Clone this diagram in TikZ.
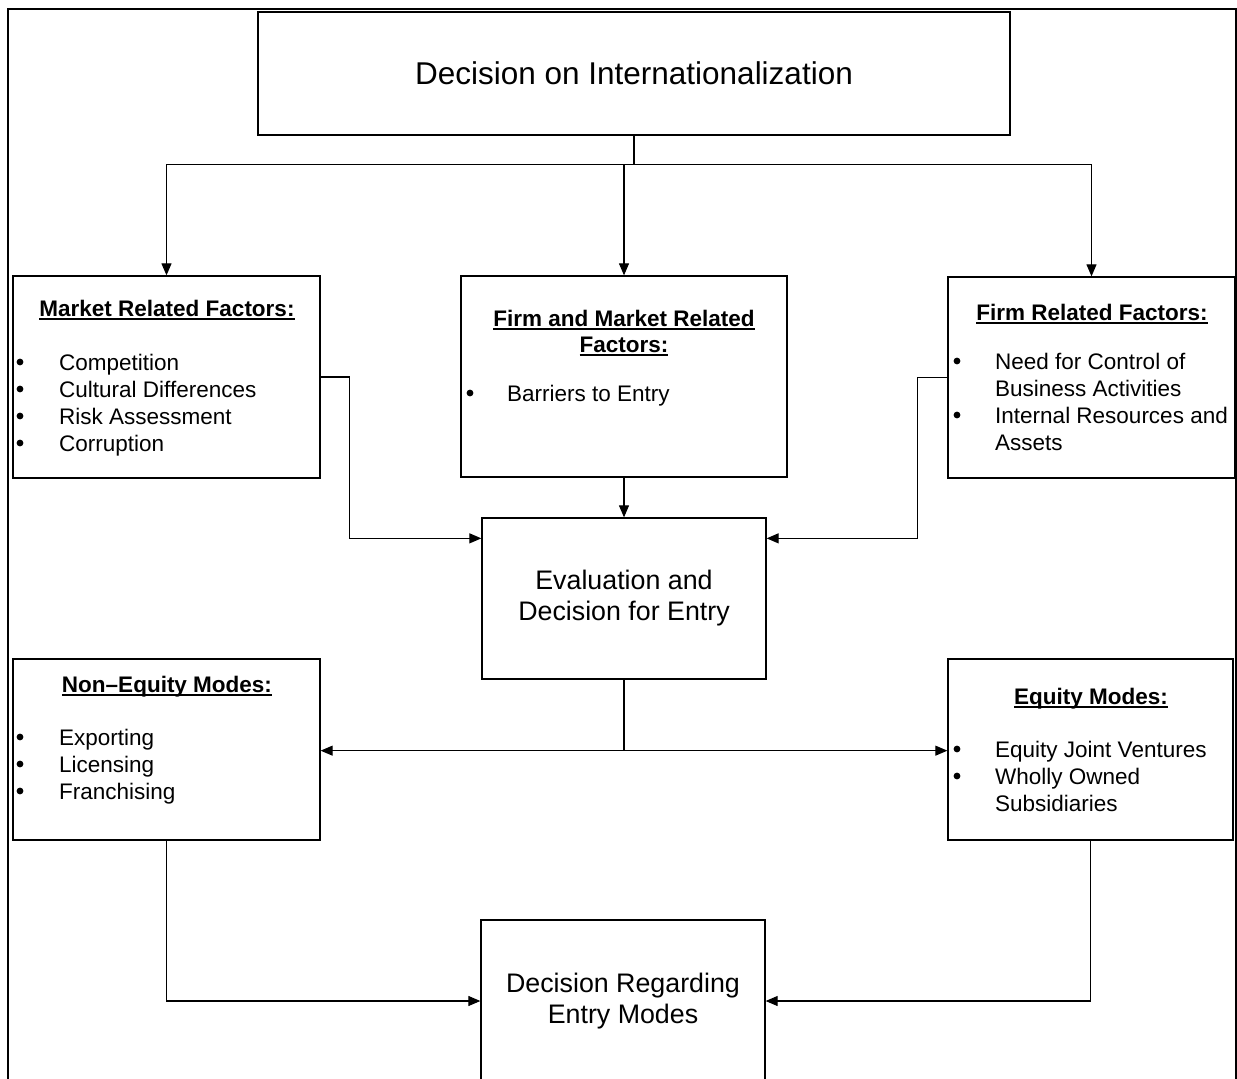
\documentclass[tikz,border=0pt]{standalone}
\usepackage{fontspec}
\setmainfont{Liberation Sans}
\usetikzlibrary{arrows.meta}
% underline at a fixed depth, drawn across descenders
\newcommand\hul[1]{\setbox0\hbox{#1}\rlap{\rule[-3.6pt]{\wd0}{1.5pt}}\box0}
\begin{document}
\begin{tikzpicture}[x=1pt,y=-1pt,
  box/.style={draw,line width=1.3pt,inner sep=0pt,align=center},
  link/.style={line width=1.1pt},
  arr/.style={link,-{Triangle[length=12pt,width=10pt]}},
  head/.style={font=\fontsize{22.5}{26}\selectfont\bfseries,inner sep=0pt,anchor=base},
  list/.style={font=\fontsize{22.5}{27}\selectfont,inner sep=0pt,anchor=base west},
  big/.style={font=\fontsize{26.8}{31}\selectfont}]
\useasboundingbox (0,0) rectangle (1237,1079);
% outer frame
\draw[line width=2pt] (8,9) rectangle (1235.5,1100);

% boxes
\node[box,minimum width=752pt,minimum height=123pt,font=\fontsize{31.5}{36}\selectfont] (top) at (634,73.5) {Decision on Internationalization};
\node[box,minimum width=307pt,minimum height=202pt] (mkt) at (166.5,377) {};
\node[box,minimum width=326pt,minimum height=201pt] (fmr) at (624,376.5) {};
\node[box,minimum width=287pt,minimum height=201pt] (frf) at (1091.5,377.5) {};
\node[box,big,minimum width=284pt,minimum height=161pt] (eval) at (624,598.5) {Evaluation and\\Decision for Entry};
\node[box,minimum width=307pt,minimum height=181pt] (neq) at (166.5,749.5) {};
\node[box,minimum width=285pt,minimum height=181pt] (eq) at (1090.5,749.5) {};
\node[box,big,minimum width=284pt,minimum height=162pt] (dec) at (623,1001) {Decision Regarding\\Entry Modes};

% headings
\node[head] (mkth) at (167,316) {\hul{Market Related Factors:}};
\node[head] (fmrh) at (624,326) {\begin{tabular}[t]{@{}c@{}}\hul{Firm and Market Related}\\\hul{Factors:}\end{tabular}};
\node[head] (frfh) at (1092,320) {\hul{Firm Related Factors:}};
\node[head] (neqh) at (167,692) {\hul{Non–Equity Modes:}};
\node[head] (eqh) at (1091,704) {\hul{Equity Modes:}};

% list items
\node[list] (mktl) at (59,370) {\begin{tabular}[t]{@{}l@{}}
  Competition\\ Cultural Differences\\ Risk Assessment\\ Corruption\end{tabular}};
\node[list] (fmrl) at (507,401) {Barriers to Entry};
\node[list] (frfl) at (995,369) {\begin{tabular}[t]{@{}l@{}}
  Need for Control of\\ Business Activities\\ Internal Resources and\\ Assets\end{tabular}};
\node[list] (neql) at (59,745) {\begin{tabular}[t]{@{}l@{}}
  Exporting\\ Licensing\\ Franchising\end{tabular}};
\node[list] (eql) at (995,757) {\begin{tabular}[t]{@{}l@{}}
  Equity Joint Ventures\\ Wholly Owned\\ Subsidiaries\end{tabular}};

% bullets
\foreach \bx/\by in {20/362,20/389,20/416,20/443,470/393,957/361,957/415,
                     20/737,20/764,20/791,957/749,957/776}
  \fill (\bx,\by) circle (3.4pt);

% connectors
\draw[link] (top.south) -- ++(0,29) coordinate (fork);
\draw[arr] (fork) -| (mkt.north);
\draw[arr] (fork) -| (frf.north);
\draw[arr] (fork -| fmr.north) -- (fmr.north);

\draw[arr] (fmr.south) -- (eval.north);
\draw[arr] (mkt.east) -- ++(29,0) |- ([yshift=-21pt]eval.north west);
\draw[arr] (frf.west) -- ++(-30,0) |- ([yshift=-21pt]eval.north east);

\draw[link] (eval.south) -- ++(0,71) coordinate (split);
\draw[arr] (split) -- (split -| neq.east);
\draw[arr] (split) -- (split -| eq.west);

\draw[arr] (neq.south) |- (dec.west);
\draw[arr] (eq.south) |- (dec.east);
\end{tikzpicture}
\end{document}
